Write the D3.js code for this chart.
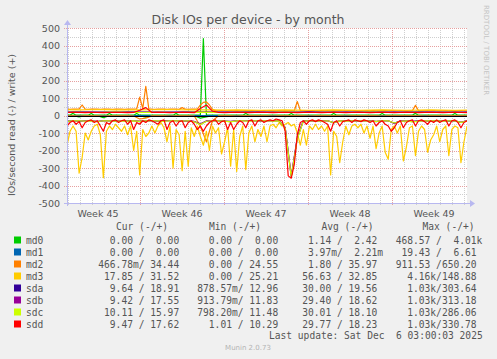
<!DOCTYPE html>
<html>
<head>
<meta charset="utf-8">
<script src="https://cdn.jsdelivr.net/npm/d3@7"></script>
<style>
  html, body { margin: 0; padding: 0; background: #f0f0f0; }
  svg { display: block; }
</style>
</head>
<body>
<div id="chart"></div>
<script>
const devices = ['md0', 'md1', 'md2', 'md3', 'sda', 'sdb', 'sdc', 'sdd'];
const colors = ['#00cc00', '#0066b3', '#ff8000', '#ffcc00', '#330099', '#990099', '#ccff00', '#ff0000'];
const yTicks = [500, 400, 300, 200, 100, 0, -100, -200, -300, -400, -500];

// reads are drawn below zero, writes above
const md0Read = [
  -1,-1,-8,-1,-1,-1,-12,-1,-1,-1, -1,-1,-1,-10,-1,-1,-1,-1,-1,-1,
  -1,-1,-15,-8,-1,-1,-1,-1,-1,-1, -1,-1,-1,-1,-1,-1,-6,-1,-1,-1,
  -1,-1,-1,-1,-1,-1,-1,-1,-1,-1, -1,-1,-1,-1,-1,-1,-1,-1,-1,-1,
  -1,-1,-1,-1,-1,-1,-1
];
const md1Read = [
  0,0,0,0,0,0,0,0,0,0, 0,0,0,0,0,0,0,0,0,0, 0,0,0,0,0,0,0,0,0,0, 0,0,0,0
];
const md2Read = [
  -2,-2,-3,-2,-2,-2,-3,-2,-2,-2, -2,-3,-20,-15,-2,-2,-2,-3,-2,-2,
  -2,-3,-60,-150,-30,-2,-2,-2,-3,-2, -2,-2,-2,-2,-3,-2,-2,-2,-2,-2,
  -3,-2,-2,-2,-2,-2,-3,-2,-2,-2, -2,-2,-3,-2,-2,-2,-2,-2,-2,-3,
  -2,-2,-2,-2,-2,-2,-2
];
const md3Read = [
  -170,-90,-60,-90,-330,-240,-100,-140,-90,-60,
  -50,-110,-355,-90,-60,-80,-50,-70,-90,-60,
  -110,-60,-200,-90,-340,-80,-120,-100,-60,-100,
  -60,-40,-70,-150,-60,-300,-80,-110,-315,-90,
  -290,-70,-120,-60,-120,-170,-90,-200,-60,-100,
  -70,-220,-150,-70,-290,-80,-320,-120,-60,-310,
  -100,-60,-150,-80,-120,-60,-150,-60,-50,-70,
  -40,-60,-50,-40,-60,-50,-100,-170,-80,-170,
  -60,-80,-50,-80,-60,-90,-60,-340,-90,-120,
  -270,-150,-60,-110,-60,-50,-70,-50,-100,-60,
  -130,-60,-190,-100,-60,-210,-250,-80,-60,-100,
  -60,-260,-180,-70,-60,-230,-90,-60,-80,-210,
  -140,-110,-60,-150,-80,-60,-230,-80,-60,-70,
  -270,-150,-60
];
const sdaRead = [
  -35,-30,-32,-30,-30,-35,-30,-30,-32,-30,
  -30,-30,-35,-30,-30,-32,-30,-30,-30,-32,
  -30,-35,-50,-32,-30,-30,-32,-35,-30,-30,
  -30,-30,-32,-30,-30,-30,-70,-350,-130,-30,
  -30,-32,-30,-30,-40,-30,-30,-30,-32,-30,
  -30,-35,-30,-30,-45,-32,-30,-35,-30,-30,
  -32,-30,-30,-32,-30,-40,-30
];
const sdbRead = [
  -32,-30,-33,-30,-30,-34,-30,-31,-30,-30,
  -33,-30,-32,-30,-31,-33,-31,-30,-30,-33,
  -31,-34,-48,-31,-30,-31,-33,-34,-31,-30,
  -30,-31,-30,-31,-30,-31,-68,-346,-125,-30,
  -31,-30,-31,-30,-42,-31,-30,-31,-30,-31,
  -30,-33,-31,-30,-44,-31,-31,-34,-30,-31,
  -30,-31,-30,-31,-31,-38,-30
];
const sdcRead = [
  -34,-31,-30,-32,-31,-35,-30,-31,-33,-31,
  -32,-31,-34,-30,-31,-31,-34,-30,-31,-32,
  -30,-36,-52,-33,-30,-31,-32,-36,-31,-31,
  -32,-31,-31,-30,-32,-31,-72,-352,-135,-32,
  -31,-31,-32,-30,-41,-31,-32,-31,-31,-31,
  -32,-34,-31,-31,-43,-33,-31,-36,-32,-31,
  -31,-31,-32,-31,-31,-39,-32
];
const sddRead = [
  -60,-40,-30,-50,-35,-70,-40,-30,-25,-40,
  -30,-60,-90,-40,-50,-30,-25,-40,-30,-25,
  -50,-30,-80,-40,-50,-30,-40,-25,-30,-40,
  -50,-30,-25,-80,-40,-30,-60,-35,-30,-70,
  -40,-30,-50,-80,-60,-90,-60,-40,-30,-25,
  -50,-35,-30,-80,-40,-80,-50,-30,-40,-70,
  -30,-25,-60,-30,-25,-40,-30,-25,-30,-20,
  -25,-30,-90,-345,-358,-280,-110,-40,-30,-50,
  -30,-25,-35,-25,-30,-40,-50,-90,-40,-30,
  -60,-35,-30,-25,-40,-25,-30,-35,-25,-30,
  -40,-30,-60,-40,-30,-50,-60,-90,-70,-40,
  -30,-70,-40,-30,-25,-60,-30,-25,-35,-50,
  -30,-40,-25,-40,-30,-25,-60,-30,-25,-40,
  -70,-40,-30
];

const md0Write = [
  2,3,12,2,2,3,2,2,12,2, 2,3,2,2,12,2,3,2,2,2,
  3,2,2,12,2,2,3,2,2,2, 2,2,3,2,2,2,12,2,2,3,
  2,2,3,2,2,440,2,2,3,2, 2,2,3,2,2,2,3,2,2,12,
  2,3,2,2,2,3,2,2,2,3, 2,2,3,2,12,2,2,3,2,2,
  2,3,2,2,2,3,2,2,12,2, 3,2,2,2,3,2,2,2,3,2,
  2,3,2,2,12,2,3,2,2,2, 3,2,2,2,3,12,2,2,3,2,
  2,3,2,2,2,3,2,2,12,2, 3,2,2
];
const md1Write = [
  0,0,0,0,0,0,0,0,0,0, 0,0,0,0,0,0,0,0,0,0, 0,0,0,0,0,0,0,0,0,0, 0,0,0,0
];
const md2Write = [
  36,35,37,36,38,60,36,35,36,37, 36,35,36,37,36,35,36,36,37,35,
  36,37,36,38,105,40,167,38,36,35, 36,37,36,35,36,37,36,35,45,36,
  35,36,37,36,60,75,78,60,35,28, 27,28,27,26,28,27,28,27,26,28,
  27,28,27,26,27,28,27,28,26,27, 28,27,26,27,28,27,80,28,27,26,
  27,28,27,26,28,27,28,27,26,27, 28,27,26,28,27,28,27,26,27,28,
  27,28,27,26,27,28,27,28,26,27, 28,27,26,27,28,58,27,26,27,28,
  27,28,27,26,27,28,27,28,26,27, 28,27,27
];
const md3Write = [
  33,32,33,34,32,33,32,33,34,33, 32,33,32,31,32,31,30,31,32,31,
  30,31,32,31,30,31,32,31,30,31, 32,31,30,31
];
const sdaWrite = [
  20,21,20,19,20,21,20,20,19,20, 21,20,20,19,20,21,20,19,20,20,
  21,20,19,20,20,21,20,19,20,21, 20,20,19,20
];
const sdbWrite = [
  19,19,18,19,20,19,18,19,19,18, 19,20,19,18,19,19,18,19,20,19,
  18,19,19,18,19,20,19,18,19,19, 18,19,19,18
];
const sdcWrite = [
  18,18,17,18,19,18,17,18,18,17, 18,19,18,17,18,18,17,18,19,18,
  17,18,18,17,18,19,18,17,18,18, 17,18,18,17
];
const sddWrite = [
  17,18,17,16,18,17,16,17,18,17, 16,17,30,45,17,18,17,16,17,18,
  17,16,40,60,25,17,16,17,18,17, 16,17,18,17,16,17,18,17,16,17,
  18,17,16,17,18,17,16,17,18,17, 16,17,18,17,16,17,18,17,16,17,
  18,17,16,17,18,17,16
];

const reads = [md0Read, md1Read, md2Read, md3Read, sdaRead, sdbRead, sdcRead, sddRead];
const writes = [md0Write, md1Write, md2Write, md3Write, sdaWrite, sdbWrite, sdcWrite, sddWrite];

const legendCur = ['  0.00 /  0.00', '  0.00 /  0.00', '466.78m/ 34.44', ' 17.85 / 31.52',
  '  9.64 / 18.91', '  9.42 / 17.55', ' 10.11 / 15.97', '  9.47 / 17.62'];
const legendMin = ['  0.00 /  0.00', '  0.00 /  0.00', '  0.00 / 24.55', '  0.00 / 25.21',
  '878.57m/ 12.96', '913.79m/ 11.83', '798.20m/ 11.48', '  1.01 / 10.29'];
const legendAvg = ['  1.14 /  2.42', '  3.97m/  2.21m', '  1.80 / 35.97', ' 56.63 / 32.85',
  ' 30.00 / 19.56', ' 29.40 / 18.62', ' 30.01 / 18.10', ' 29.77 / 18.23'];
const legendMax = ['468.57 /  4.01k', ' 19.43 /  6.61', '911.53 /650.20', '  4.16k/148.88',
  '  1.03k/303.64', '  1.03k/313.18', '  1.03k/286.06', '  1.03k/330.78'];

const width = 497, height = 359;
const plotLeft = 67, plotRight = 467, plotTop = 28, plotBottom = 203;
const t0 = new Date(Date.UTC(2025, 10, 2, 22)), t1 = new Date(Date.UTC(2025, 11, 6, 6));

const svg = d3.select('#chart').append('svg')
  .attr('width', width).attr('height', height)
  .style('font-family', '"DejaVu Sans", sans-serif');

svg.append('rect').attr('width', width).attr('height', height).attr('fill', '#f0f0f0');
svg.append('rect').attr('x', plotLeft).attr('y', plotTop)
  .attr('width', plotRight - plotLeft).attr('height', plotBottom - plotTop)
  .attr('fill', '#ffffff');

const x = d3.scaleUtc().domain([t0, t1]).range([plotLeft, plotRight]);
const y = d3.scaleLinear().domain([-500, 500]).range([plotBottom, plotTop]);

const grid = svg.append('g').attr('shape-rendering', 'crispEdges');
const hLine = (v, color) => grid.append('line')
  .attr('x1', plotLeft - 3).attr('x2', plotRight)
  .attr('y1', Math.round(y(v)) + 0.5).attr('y2', Math.round(y(v)) + 0.5)
  .attr('stroke', color).attr('stroke-dasharray', '1,1');
const vLine = (d, color) => grid.append('line')
  .attr('y1', plotTop).attr('y2', plotBottom + 3)
  .attr('x1', Math.round(x(d)) + 0.5).attr('x2', Math.round(x(d)) + 0.5)
  .attr('stroke', color).attr('stroke-dasharray', '1,1');

// minor grid
y.ticks(20).filter(v => v % 100 !== 0).forEach(v => hLine(v, '#cfcfcf'));
d3.utcDay.range(t0, t1).filter(d => d.getUTCDay() !== 0).forEach(d => vLine(d, '#cfcfcf'));
// major grid
yTicks.forEach(v => hLine(v, '#e6a0a0'));
d3.utcSunday.range(t0, t1).forEach(d => vLine(d, '#e6a0a0'));

svg.append('defs').append('clipPath').attr('id', 'plot')
  .append('rect').attr('x', plotLeft).attr('y', plotTop)
  .attr('width', plotRight - plotLeft).attr('height', plotBottom - plotTop);

const line = d3.line().x(d => x(d.t)).y(d => y(d.v));
const toPoints = arr => arr.map((v, i) => ({
  t: new Date(+t0 + i * (t1 - t0) / (arr.length - 1)), v
}));

const lines = svg.append('g').attr('clip-path', 'url(#plot)');
devices.forEach((dev, i) => {
  [reads[i], writes[i]].forEach(arr => {
    lines.append('path').datum(toPoints(arr))
      .attr('d', line).attr('fill', 'none')
      .attr('stroke', colors[i]).attr('stroke-width', 1.2).attr('stroke-linejoin', 'round');
  });
});

// zero line
svg.append('line').attr('x1', plotLeft).attr('x2', plotRight)
  .attr('y1', Math.round(y(0)) + 0.5).attr('y2', Math.round(y(0)) + 0.5)
  .attr('stroke', '#000').attr('shape-rendering', 'crispEdges');

// axes with arrows
const axisColor = '#b8b8f0';
svg.append('line').attr('x1', plotLeft - 3).attr('x2', plotRight + 3)
  .attr('y1', plotBottom + 0.5).attr('y2', plotBottom + 0.5)
  .attr('stroke', axisColor).attr('shape-rendering', 'crispEdges');
svg.append('line').attr('x1', plotLeft + 0.5).attr('x2', plotLeft + 0.5)
  .attr('y1', plotBottom + 3).attr('y2', plotTop - 3)
  .attr('stroke', axisColor).attr('shape-rendering', 'crispEdges');
svg.append('path')
  .attr('d', `M${plotRight + 3},${plotBottom - 3} L${plotRight + 8},${plotBottom + 0.5} L${plotRight + 3},${plotBottom + 4} Z`)
  .attr('fill', axisColor);
svg.append('path')
  .attr('d', `M${plotLeft - 3},${plotTop - 3} L${plotLeft + 0.5},${plotTop - 8} L${plotLeft + 4},${plotTop - 3} Z`)
  .attr('fill', axisColor);

const textColor = '#555';
svg.append('text').attr('x', 248).attr('y', 24).attr('text-anchor', 'middle')
  .attr('font-size', 12.5).attr('fill', textColor).text('Disk IOs per device - by month');

svg.append('g').selectAll('text').data(yTicks).join('text')
  .attr('x', 60).attr('y', d => y(d) + 3.5).attr('text-anchor', 'end')
  .attr('font-size', 9.5).attr('fill', textColor).text(d => d);

svg.append('text').attr('transform', 'translate(14.5,125) rotate(-90)').attr('text-anchor', 'middle')
  .attr('font-size', 9.5).attr('fill', textColor).text('IOs/second read (-) / write (+)');

const weekMids = d3.utcSunday.range(d3.utcSunday.floor(t0), t1)
  .map(d => d3.utcHour.offset(d, 84)).filter(d => d > t0 && d < t1);
svg.append('g').selectAll('text').data(weekMids).join('text')
  .attr('x', d => x(d)).attr('y', 216.5).attr('text-anchor', 'middle')
  .attr('font-size', 9.5).attr('fill', textColor).text(d3.utcFormat('Week %V'));

svg.append('text').attr('transform', 'translate(484,5) rotate(90)')
  .attr('font-size', 7).attr('fill', '#c4c4c4').text('RRDTOOL / TOBI OETIKER');

// legend
const legend = svg.append('g').style('font-family', '"DejaVu Sans Mono", monospace')
  .attr('font-size', 9.6).attr('fill', textColor);
[['Cur (-/+)', 116], ['Min (-/+)', 209], ['Avg (-/+)', 321.5], ['Max (-/+)', 422.5]].forEach(([t, px]) => {
  legend.append('text').attr('x', px).attr('y', 230).text(t);
});
const cols = [[legendCur, 98.3], [legendMin, 197.3], [legendAvg, 296.5], [legendMax, 395.7]];
devices.forEach((dev, i) => {
  const ry = 240 + i * 12;
  legend.append('rect').attr('x', 14).attr('y', ry - 3.5).attr('width', 7).attr('height', 7).attr('fill', colors[i]);
  legend.append('text').attr('x', 26).attr('y', ry + 3.5).text(dev);
  cols.forEach(([vals, px]) => {
    legend.append('text').attr('x', px).attr('y', ry + 3.5).style('white-space', 'pre').text(vals[i]);
  });
});
legend.append('text').attr('x', 482.7).attr('y', 339).attr('text-anchor', 'end').style('white-space', 'pre')
  .text('Last update: Sat Dec  6 03:00:03 2025');

svg.append('text').attr('x', 248).attr('y', 350).attr('text-anchor', 'middle')
  .attr('font-size', 7).attr('fill', '#b4b4b4').text('Munin 2.0.73');
</script>
</body>
</html>
